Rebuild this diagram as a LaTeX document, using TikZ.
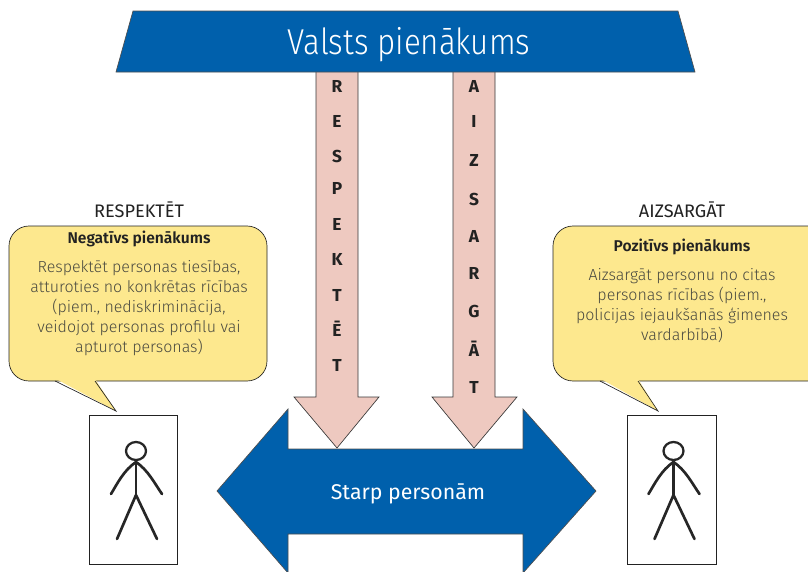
\documentclass[tikz,border=0pt]{standalone}
\usepackage{fontspec}
\setmainfont{Fira Sans Light}[BoldFont={Fira Sans SemiBold}]
\newfontfamily\titlefont{Fira Sans Light}[FakeStretch=0.87]
\newfontfamily\regfont{Fira Sans}
\newfontfamily\heavyfont{Fira Sans}[UprightFont={* Bold}]
\definecolor{blu}{HTML}{0060AC}
\definecolor{pnk}{HTML}{EEC9C0}
\definecolor{yel}{HTML}{FDE88E}
\definecolor{txt}{HTML}{4A4A40}
\definecolor{dk}{HTML}{222222}
\tikzset{
 bluebox/.style={draw=dk!80,line width=0.5pt,fill=blu,line join=miter},
 pinkarrow/.style={draw=dk!90,line width=0.5pt,fill=pnk},
 bubble/.style={draw=dk,line width=0.5pt,fill=yel},
 personbox/.style={draw=dk,line width=0.6pt,fill=white},
 stick/.style={draw=black!85,line width=2pt,line cap=round,line join=round},
 letter/.style={font=\fontsize{13}{14}\heavyfont,text=dk,inner sep=0pt},
 head/.style={font=\fontsize{13.6}{16}\regfont,text=dk,inner sep=0pt},
 bubtitle/.style={font=\fontsize{11.7}{14}\selectfont\bfseries,text=dk,inner sep=0pt},
 bubbody/.style={font=\fontsize{12}{15}\selectfont,text=txt,align=center,inner sep=0pt},
}
\newcommand{\stickman}[1]{%
 \begin{scope}[xshift=#1*0.75pt]
 \draw[stick,line width=1.7pt] (136,451) ellipse (10 and 9);
 \draw[stick] (136,461) -- (136,495);
 \draw[stick] (111,494) .. controls (117,484) and (124,470) .. (136,462) .. controls (148,470) and (155,484) .. (162,494);
 \draw[stick] (117,539) -- (136,495) -- (157,539);
 \end{scope}}
\begin{document}
\begin{tikzpicture}[x=0.75pt,y=-0.75pt]
\useasboundingbox (0,0) rectangle (808,572);
% pink arrows
\draw[pinkarrow] (316,72) -- (316,397) -- (294,397) -- (337,448) -- (379,397) -- (358,397) -- (358,72);
\draw[pinkarrow] (453,72) -- (453,397) -- (432,397) -- (474,448) -- (517,397) -- (495,397) -- (495,72);
% top banner
\draw[bluebox] (133,11) -- (678,11) -- (695,72) -- (116,72) -- cycle;
\node[text=white,inner sep=0pt,font=\fontsize{27}{30}\titlefont] (title) at (409,45) {Valsts pienākums};
% double arrow
\draw[bluebox] (217,491) -- (288,409) -- (288,449) -- (337,449) -- (474,449) -- (523,449) -- (523,409) -- (596,491) -- (523,573) -- (523,534) -- (288,534) -- (288,573) -- cycle;
\node[text=white,inner sep=0pt,font=\fontsize{16}{18}\regfont] (between) at (408,494) {Starp personām};
% letters
\foreach \l/\y [count=\i] in {R/86,E/121,S/156,P/188,E/224,K/259,T/295,Ē/329,T/365}
  \node[letter] (r\i) at (337,\y) {\l};
\foreach \l/\y [count=\i] in {A/86,I/121,Z/160,S/199,A/236,R/273,G/311,Ā/349,T/387}
  \node[letter] (a\i) at (474,\y) {\l};
% bubbles
\draw[bubble,rounded corners=20*0.75pt] (9,226) rectangle (267,381);
\draw[bubble,rounded corners=20*0.75pt] (553,226) rectangle (827,381);
\fill[yel] (56,379) -- (116,411) -- (95,379) -- cycle;
\draw[bubble,fill=none] (55,381) -- (116,411) -- (95,381);
\fill[yel] (601,379) -- (658,411) -- (638,379) -- cycle;
\draw[bubble,fill=none] (600,381) -- (658,411) -- (638,381);
\node[head] (lh) at (139,210) {RESPEKTĒT};
\node[head] (rh) at (682,210) {AIZSARGĀT};
\node[bubtitle] (lt) at (139,239) {Negatīvs pienākums};
\node[bubtitle] (rt) at (682,247) {Pozitīvs pienākums};
\node[bubbody,anchor=north] (lb) at (139,260) {Respektēt personas tiesības,\\atturoties no konkrētas rīcības\\(piem., nediskriminācija,\\veidojot personas profilu vai\\apturot personas)};
\node[bubbody,anchor=north] (rb) at (682,268) {Aizsargāt personu no citas\\personas rīcības (piem.,\\policijas iejaukšanās ģimenes\\vardarbībā)};
% persons
\draw[personbox] (89,415) rectangle (177,564);
\draw[personbox] (627,415) rectangle (716,564);
\stickman{0}
\stickman{537.5}
\end{tikzpicture}
\end{document}
